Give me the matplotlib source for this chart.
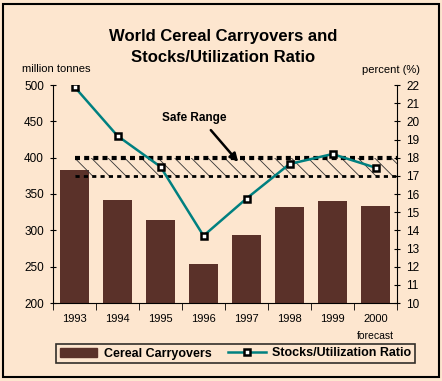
import matplotlib
matplotlib.use("Agg")
import matplotlib.pyplot as plt
from matplotlib.patches import Rectangle
from matplotlib.lines import Line2D
from matplotlib.patches import Patch

years = ["1993", "1994", "1995", "1996", "1997", "1998", "1999", "2000"]
carryovers = [383, 342, 314, 254, 294, 332, 341, 334]
ratio = [21.9, 19.2, 17.5, 13.7, 15.75, 17.65, 18.2, 17.45]
safe_range = (17.0, 18.0)
left_ticks = [200, 250, 300, 350, 400, 450, 500]
right_ticks = list(range(10, 23))

W, H = 442, 381
BG = "#FDE6CF"
BAR = "#5A3129"
LINE = "#008080"

plt.rcParams["font.family"] = ["Liberation Sans", "DejaVu Sans"]
plt.rcParams["hatch.linewidth"] = 0.6


def px(x, y):
    return x / W, 1 - y / H


fig = plt.figure(figsize=(W / 100, H / 100), dpi=100)
fig.patch.set_facecolor(BG)
fig.patches.append(Rectangle(px(3, 377), 436 / W, 373 / H, transform=fig.transFigure,
                             fill=False, lw=1.5, ec="black"))

ax = fig.add_axes([53 / W, 1 - 303 / H, 344 / W, 218 / H])
ax.set_facecolor("none")
x = list(range(len(years)))
ax.bar(x, carryovers, width=0.67, color=BAR, zorder=2)
ax.set_xlim(-0.5, len(years) - 0.5)
ax.set_ylim(200, 500)
ax.set_yticks(left_ticks)
ax.tick_params(axis="y", direction="inout", length=5, labelsize=8.5, pad=4)
ax.set_xticks(x)
ax.set_xticklabels(years, fontsize=8)
ax.set_xticks([i - 0.5 for i in range(len(years) + 1)], minor=True)
ax.tick_params(axis="x", which="major", length=0, pad=8)
ax.tick_params(axis="x", which="minor", direction="out", length=5)
ax.spines["top"].set_visible(False)
ax.spines["right"].set_visible(False)

ax2 = ax.twinx()
ax2.set_ylim(10, 22)
ax2.set_yticks(right_ticks)
ax2.tick_params(axis="y", direction="inout", length=5, labelsize=8.5, pad=4)
ax2.spines["top"].set_visible(False)
ax2.spines["left"].set_visible(False)
ax2.spines["bottom"].set_visible(False)

# safe range band
lo, hi = safe_range
ax2.add_patch(Rectangle((0, lo), 7.5, hi - lo, fill=False, hatch="\\\\", ec="#333333",
                        lw=0, zorder=1))
ax2.plot([0, 7.5], [hi, hi], color="black", lw=3, ls=(0, (1.2, 1.0)), zorder=1)
ax2.plot([0, 7.5], [lo, lo], color="black", lw=2, ls=(0, (1.5, 1.5)), zorder=1)

ax2.plot(x, ratio, color=LINE, lw=1.8, marker="s", ms=5, mfc="white", mec="black",
         mew=1.8, zorder=4)

ax2.annotate("", xy=px(240, 164), xycoords="figure fraction", xytext=px(209, 128),
             textcoords="figure fraction",
             arrowprops=dict(arrowstyle="-|>", color="black", lw=1.8, mutation_scale=12))
fig.text(*px(194, 118), "Safe Range", ha="center", va="center", fontsize=8.5,
         fontweight="bold")

fig.text(*px(223, 36), "World Cereal Carryovers and", ha="center", va="center",
         fontsize=12, fontweight="bold")
fig.text(*px(223, 58), "Stocks/Utilization Ratio", ha="center", va="center",
         fontsize=12, fontweight="bold")
fig.text(*px(56, 69), "million tonnes", ha="center", va="center", fontsize=8)
fig.text(*px(391, 70), "percent (%)", ha="center", va="center", fontsize=8)
fig.text(*px(375, 336), "forecast", ha="center", va="center", fontsize=7.5)

handles = [Patch(color=BAR),
           Line2D([], [], color=LINE, lw=1.8, marker="s", ms=5, mfc="white", mec="black",
                  mew=1.8)]
leg = fig.legend(handles, ["Cereal Carryovers", "Stocks/Utilization Ratio"], ncol=2,
                 loc="center", bbox_to_anchor=(56 / W, 1 - 365 / H, 359 / W, 23 / H),
                 mode="expand", frameon=True, fancybox=False, handlelength=3.0,
                 handleheight=0.7, handletextpad=0.5, columnspacing=2, borderpad=0.3,
                 borderaxespad=0, prop={"weight": "bold", "size": 9})
leg.get_frame().set_edgecolor("black")
leg.get_frame().set_facecolor(BG)
leg.get_frame().set_linewidth(1.2)

fig.savefig("out.png", dpi=100, facecolor=BG)
